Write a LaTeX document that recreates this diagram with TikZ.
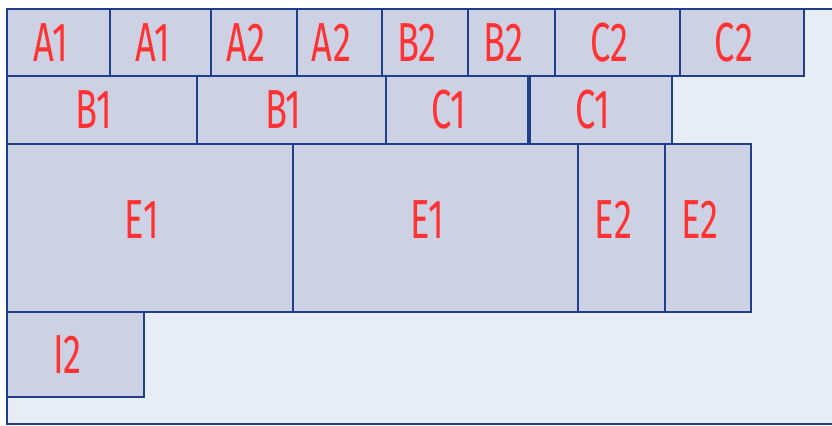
\documentclass[tikz,border=0pt]{standalone}
\usepackage{fontspec}
\newfontfamily\cellfont[FakeStretch=0.66]{Fira Sans}
\usetikzlibrary{positioning}
\definecolor{cborder}{HTML}{1F3F8C}
\definecolor{cfill}{HTML}{CCD2E3}
\definecolor{cbg}{HTML}{E6EDF5}
\definecolor{ctext}{HTML}{FF3333}
\tikzset{
  cell/.style ={draw=cborder,line width=1pt,fill=cfill,outer sep=0pt,inner sep=0pt,
                text=ctext,font=\cellfont\fontsize{27.5}{32}\selectfont,
                execute at end node={\hspace*{8pt}}},
  wd/.style   ={minimum width=#1*0.5pt},
  ht/.style   ={minimum height=#1*0.5pt},
  row1/.style ={cell,ht=67},
  row2/.style ={cell,ht=68},
  row3/.style ={cell,ht=168,text depth=8pt},
  row4/.style ={cell,ht=85},
}
\begin{document}
\begin{tikzpicture}[x=0.5pt,y=-0.5pt]
 \useasboundingbox (0,0) rectangle (832,426);
 % outer area
 \fill[cbg] (7,9) rectangle (840,424);
 \draw[cborder,line width=1pt] (840,9) -- (7,9) -- (7,424) -- (840,424);
 % row 1
 \node[row1,wd=103,anchor=north west] (a1a) at (7,9) {A1};
 \node[row1,wd=101,right=0pt of a1a] (a1b) {A1};
 \node[row1,wd=86,right=0pt of a1b] (a2a) {A2};
 \node[row1,wd=85,right=0pt of a2a] (a2b) {A2};
 \node[row1,wd=86,right=0pt of a2b] (b2a) {B2};
 \node[row1,wd=87,right=0pt of b2a] (b2b) {B2};
 \node[row1,wd=125,right=0pt of b2b] (c2a) {C2};
 \node[row1,wd=124,right=0pt of c2a] (c2b) {C2};
 % row 2
 \node[row2,wd=190,anchor=north west] (b1a) at (7,76) {B1};
 \node[row2,wd=189,right=0pt of b1a] (b1b) {B1};
 \node[row2,wd=142,right=0pt of b1b] (c1a) {C1};
 \node[row2,wd=142,right=1pt of c1a] (c1b) {C1};
 % row 3
 \node[row3,wd=286,anchor=north west] (e1a) at (7,144) {E1};
 \node[row3,wd=285,right=0pt of e1a] (e1b) {E1};
 \node[row3,wd=87,right=0pt of e1b] (e2a) {E2};
 \node[row3,wd=86,right=0pt of e2a] (e2b) {E2};
 % row 4
 \node[row4,wd=137,anchor=north west] (i2) at (7,312) {I2};
\end{tikzpicture}
\end{document}
